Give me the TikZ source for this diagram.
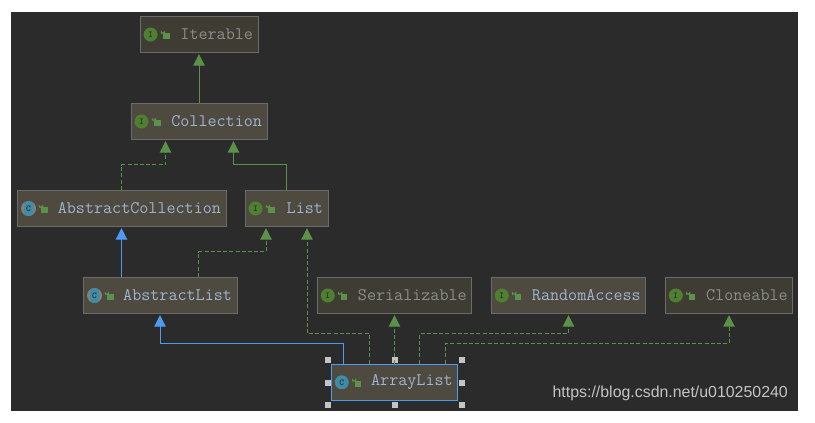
\documentclass[tikz,border=0pt]{standalone}
\usepackage{fontspec}
\usepackage{xcolor}
\usetikzlibrary{arrows.meta}
\newfontfamily\urlfont{Liberation Sans}
\definecolor{canvas}{HTML}{2B2B2B}
\definecolor{boxlit}{HTML}{4E4A3F}
\definecolor{boxdim}{HTML}{3F3C34}
\definecolor{edgegray}{HTML}{6B6B69}
\definecolor{txtblue}{HTML}{9DB4D2}
\definecolor{txtgray}{HTML}{8C8E8B}
\definecolor{implgreen}{HTML}{5B9148}
\definecolor{extblue}{HTML}{4F9BF2}
\definecolor{icongreen}{HTML}{4F7F30}
\definecolor{iconteal}{HTML}{3F8CA8}
\definecolor{handlegray}{HTML}{C4C4C4}
\tikzset{
  umlbox/.style={draw=edgegray,line width=0.9pt,minimum height=36.5,inner xsep=0pt,inner ysep=0pt,
    align=right,font=\ttfamily\fontsize{17.6}{17.6}\selectfont},
  kindicon/.style={circle,fill=icongreen,minimum size=14,inner sep=0pt,text=canvas,
    font=\ttfamily\bfseries\fontsize{9}{9}\selectfont},
  kindbar/.style={rectangle,rounded corners=2.5,fill=iconteal,minimum width=9,minimum height=14,inner sep=0pt,text=canvas,
    font=\ttfamily\bfseries\fontsize{9}{9}\selectfont},
  lockbody/.style={fill=implgreen,minimum width=6.5,minimum height=5.5,inner sep=0pt},
  handle/.style={fill=handlegray,minimum size=6,inner sep=0pt},
  inherit/.style={extblue,line width=1pt,-{Triangle[width=11.5pt,length=11.5pt]}},
  realize/.style={implgreen,line width=1pt,-{Triangle[width=11.5pt,length=11.5pt]}},
  impl/.style={realize,dash pattern=on 4pt off 2.2pt},
}
\begin{document}
\begin{tikzpicture}[x=1pt,y=-1pt]
\useasboundingbox (0,0) rectangle (815,423);
\fill[canvas] (11,12) rectangle (798,411);
% the boxes
\foreach \nm/\cx/\cy/\wdth/\shade/\txt in {Iterable/199/34.5/118/boxdim/txtgray,
    Collection/199/121.5/136/boxlit/txtblue,
    AbstractCollection/121.5/208.5/209/boxlit/txtblue,
    List/286.5/208.5/83/boxlit/txtblue,
    AbstractList/160/295.5/154/boxlit/txtblue,
    Serializable/394.5/295.5/154.5/boxdim/txtgray,
    RandomAccess/568.5/295.5/154.5/boxlit/txtblue,
    Cloneable/729/295.5/127.5/boxdim/txtgray}
  {\node[umlbox,fill=\shade,text=\txt,minimum width=\wdth,text width=\wdth-10] (\nm) at (\cx,\cy) {\nm};}
\node[umlbox,fill=boxlit,text=txtblue,draw=extblue,minimum width=126.5,text width=116.5] (ArrayList) at (394.5,382.3) {ArrayList};
% selection handles
\foreach \hx/\hy [count=\hn] in {327.5/360,395/360,462/360,327.5/382.5,462/382.5,327.5/405,395/405,462/405}
  {\node[handle] (handle\hn) at (\hx,\hy) {};}
% interface and class marks
\foreach \nm in {Iterable,Collection,List,Serializable,RandomAccess,Cloneable}
  {\node[kindicon] (\nm-kind) at ([xshift=11]\nm.west) {I};}
\foreach \nm in {AbstractCollection,AbstractList}
  {\node[kindicon,fill=gray,minimum size=15] (\nm-ring) at ([xshift=12]\nm.west) {};
   \node[kindbar] (\nm-kind) at (\nm-ring) {C};}
\node[kindicon,fill=iconteal] (ArrayList-kind) at ([xshift=11]ArrayList.west) {C};
% the padlocks
\foreach \nm in {Iterable,Collection,AbstractCollection,List,AbstractList,Serializable,RandomAccess,Cloneable,ArrayList}
  {\node[lockbody] (\nm-lock) at ([xshift=16,yshift=-1.7]\nm-kind) {};
   \draw[implgreen,line width=0.9pt] ([xshift=1.5]\nm-lock.north west) -- ++(0,-1.5) arc[start angle=0,end angle=180,radius=1.7] -- ++(0,2);}
% the connectors
\draw[realize] (Collection.north) -- ([yshift=-1]Iterable.south);
\draw[impl] (AbstractCollection.north) -- ++(0,-25) -| ([xshift=-33.5,yshift=-1]Collection.south);
\draw[realize] (List.north) -- ++(0,-25) -| ([xshift=34.5,yshift=-1]Collection.south);
\draw[inherit] ([xshift=-38.5]AbstractList.north) -- ([yshift=-1]AbstractCollection.south);
\draw[impl] ([xshift=38.5]AbstractList.north) -- ++(0,-25) -| ([xshift=-20.5,yshift=-1]List.south);
\draw[impl] ([xshift=-25]ArrayList.north) -- ++(0,-30) -| ([xshift=20.5,yshift=-1]List.south);
\draw[inherit] ([xshift=-51]ArrayList.north) -- ++(0,-20) -| ([yshift=-1]AbstractList.south);
\draw[impl] (ArrayList.north) -- ([yshift=-1]Serializable.south);
\draw[impl] ([xshift=25]ArrayList.north) -- ++(0,-30) -| ([yshift=-1]RandomAccess.south);
\draw[impl] ([xshift=51]ArrayList.north) -- ++(0,-20) -| ([yshift=-1]Cloneable.south);
\node[anchor=east,inner sep=0pt,text=handlegray,font=\urlfont\fontsize{15.9}{15.9}\selectfont] (watermark) at (788,393) {https://blog.csdn.net/u010250240};
\end{tikzpicture}
\end{document}
